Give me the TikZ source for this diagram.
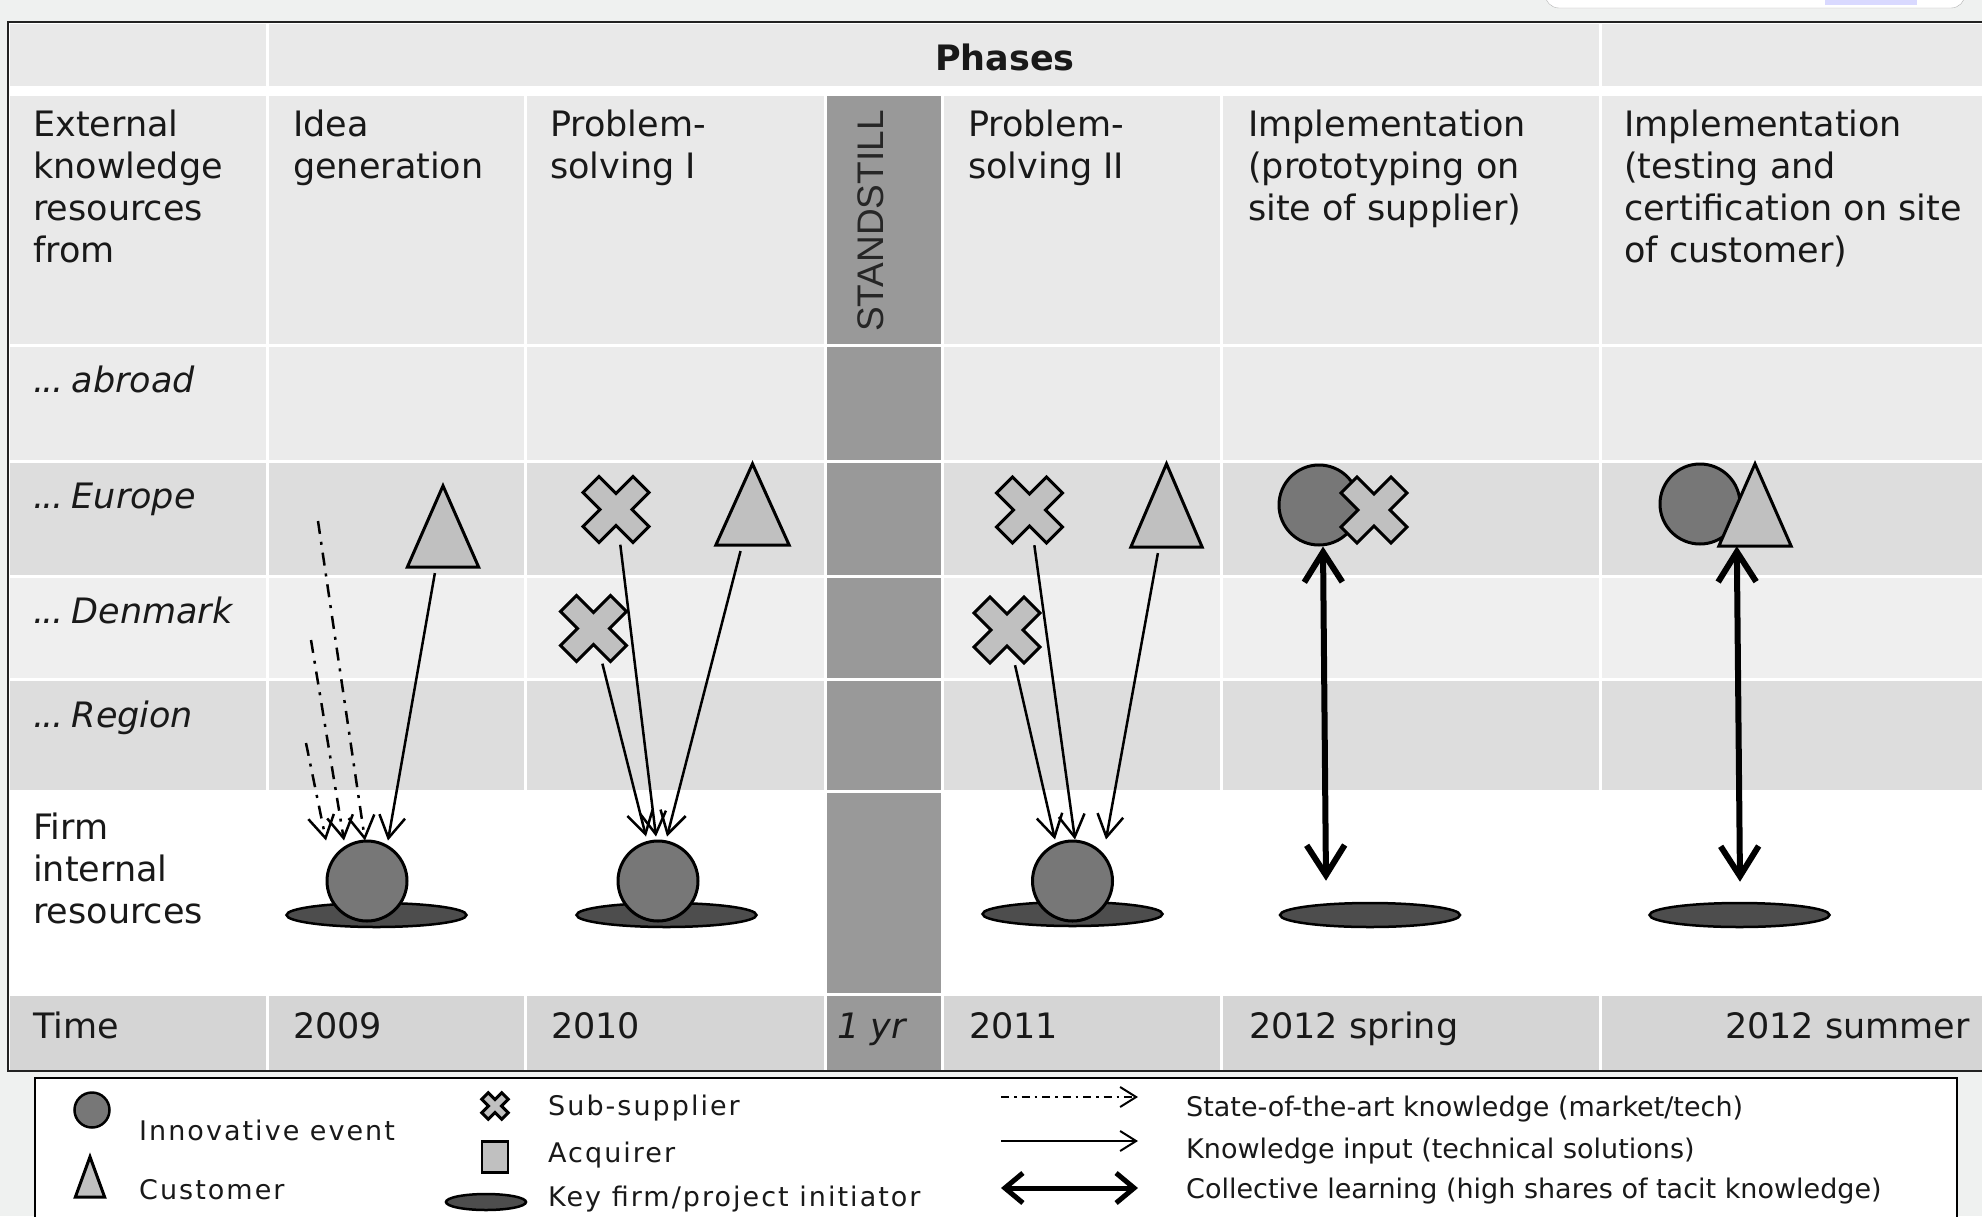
\documentclass[tikz,border=0pt]{standalone}
\usepackage{fontspec}
\setmainfont{DejaVu Sans}
\newfontfamily\stillfont{Liberation Sans}
\newfontfamily\keyfont[LetterSpace=7.5]{DejaVu Sans}
\usetikzlibrary{shapes.geometric,arrows.meta}
\definecolor{pagebg}{HTML}{EFF1F0}
\definecolor{rowA}{HTML}{E9E9E9}
\definecolor{rowB}{HTML}{EBEBEB}
\definecolor{rowdark}{HTML}{DDDDDD}
\definecolor{rowlight}{HTML}{EFEFEF}
\definecolor{timerow}{HTML}{D5D5D5}
\definecolor{stillgray}{HTML}{999999}
\definecolor{eventgray}{HTML}{777777}
\definecolor{firmgray}{HTML}{4D4D4D}
\definecolor{actorgray}{HTML}{C0C0C0}
\definecolor{rule}{HTML}{222222}
\tikzset{
    event/.style={circle,draw=black,line width=3pt,fill=eventgray,minimum size=80pt,inner sep=0},
    keyfirm/.style={ellipse,draw=black,line width=2.5pt,fill=firmgray,minimum width=180pt,minimum height=24pt,inner sep=0},
    actor/.style={draw=black,line width=3pt,fill=actorgray,line join=miter},
    slot/.style={rectangle,inner sep=0},
    txt/.style={inner sep=0,font=\fontsize{35}{42}\selectfont,align=left,text=black!90},
    place/.style={txt,font=\fontsize{35}{42}\selectfont\itshape,anchor=base west},
    keytxt/.style={inner sep=0,font=\keyfont\fontsize{27}{32}\selectfont,anchor=base west,text=black!90},
    lgtxt/.style={inner sep=0,font=\fontsize{27}{32}\selectfont,anchor=base west,text=black!90},
    kin/.style={-{Straight Barb[length=22pt,width=26pt]},line width=2.5pt},
    sota/.style={kin,dash pattern=on 13pt off 8pt on 3pt off 8pt},
    clearn/.style={{Straight Barb[length=30pt,width=38pt]}-{Straight Barb[length=30pt,width=38pt]},line width=6pt}
}
% sub-supplier cross: name, position, scale
\newcommand{\subsupplier}[3]{%
    \node[slot,minimum size=#3*70pt] (#1) at (#2) {};
    \filldraw[actor,shift={(#2)},scale=#3] (-33,-17) -- (-17,-33) -- (0,-16) -- (17,-33) -- (33,-17) -- (16,0)
        -- (33,17) -- (17,33) -- (0,16) -- (-17,33) -- (-33,17) -- (-16,0) -- cycle;
}
% customer triangle: name, position, width, height
\newcommand{\customer}[4]{%
    \node[slot,minimum width=#3pt,minimum height=#4pt] (#1) at (#2) {};
    \filldraw[actor] (#1.south west) -- (#1.north) -- (#1.south east) -- cycle;
}
\newcommand{\fromdots}{.\kern-1.5pt.\kern-1.5pt.\kern-3pt\ }

\begin{document}
\begin{tikzpicture}[x=1pt,y=-1pt]
    \useasboundingbox (0,0) rectangle (1982,1216);
    \clip (0,0) rectangle (1982,1216);
    \fill[pagebg] (0,0) rectangle (1982,1216);
    \fill[white,draw=gray!60,rounded corners=14pt] (1545,-40) rectangle (1965,8);
    \fill[blue!15] (1825,-40) rectangle (1917,5);

    \fill[white] (8,22) rectangle (1990,1071);
    \foreach \xa/\xb in {8/267,267/1600,1600/1990}
        \fill[rowA] (\xa+1.5,23.5) rectangle (\xb-1.5,86);
    \foreach \ya/\yb/\rowcol in {94/345/rowA,345/461/rowB,461/576/rowdark,576/679/rowlight,679/791/rowdark,791/994/white,994/1071/timerow}{
        \foreach \xa/\xb in {8/267,267/525,525/825,942/1221,1221/1600,1600/1990}
            \fill[\rowcol] (\xa+1.5,\ya+1.5) rectangle (\xb-1.5,\yb-1.5);
        \fill[stillgray] (826.5,\ya+1.5) rectangle (940.5,\yb-1.5);
    }
    \draw[rule,line width=2.5pt] (1990,22) -- (8,22) -- (8,1071) -- (1990,1071);

    \node[txt,font=\fontsize{35}{42}\selectfont\bfseries,anchor=base] (phases) at (1005,70) {Phases};
    \node[txt,anchor=north west] (hext) at (33,110) {External\\knowledge\\resources\\from};
    \node[txt,anchor=north west] (hidea) at (293,110) {Idea\\generation};
    \node[txt,anchor=north west] (hps1) at (550,110) {Problem-\\solving I};
    \node[rotate=90,inner sep=0,font=\stillfont\fontsize{37}{40}\selectfont,text=black!85] (still) at (871,221) {STANDSTILL};
    \node[txt,anchor=north west] (hps2) at (968,110) {Problem-\\solving II};
    \node[txt,anchor=north west] (himp1) at (1248,110) {Implementation\\(prototyping on\\site of supplier)};
    \node[txt,anchor=north west] (himp2) at (1624,110) {Implementation\\(testing and\\certification on site\\of customer)};

    \node[place] (rabroad) at (33,392) {\fromdots abroad};
    \node[place] (reurope) at (33,508) {\fromdots Europe};
    \node[place] (rdenmark) at (33,623) {\fromdots Denmark};
    \node[place] (rregion) at (33,727) {\fromdots Region};
    \node[txt,anchor=north west] (rfirm) at (33,813) {Firm\\internal\\resources};

    \node[txt,anchor=base west] (ttime) at (33,1038) {Time};
    \node[txt,anchor=base west] (t2009) at (293,1038) {2009};
    \node[txt,anchor=base west] (t2010) at (551,1038) {2010};
    \node[place] (tyear) at (837,1038) {1 yr};
    \node[txt,anchor=base west] (t2011) at (969,1038) {2011};
    \node[txt,anchor=base west] (tspring) at (1249,1038) {2012 spring};
    \node[txt,anchor=base east] (tsummer) at (1970,1038) {2012 summer};

    \customer{cu1}{443,526.5}{71}{81}
    \node[keyfirm] (kf1) at (376.5,915) {};
    \node[event] (ev1) at (367,881) {};
    \coordinate (sa1) at (318,521);
    \coordinate (sa2) at (311,640);
    \coordinate (sa3) at (306,743);
    \draw[sota] (sa1) -- ([shift={(-2,1)}]ev1.north);
    \draw[sota] (sa2) -- ([shift={(-23,1)}]ev1.north);
    \draw[sota] (sa3) -- ([shift={(-41,1)}]ev1.north);
    \draw[kin,shorten <=6pt] (cu1) -- ([shift={(21,1)}]ev1.north);

    \subsupplier{ss1}{616,509.5}{1}
    \subsupplier{ss2}{593.5,628.5}{1}
    \customer{cu2}{752.5,504.5}{73}{81}
    \node[keyfirm] (kf2) at (666.5,915) {};
    \node[event] (ev2) at (658,881) {};
    \draw[kin] (ss2) -- ([shift={(-12,-3)}]ev2.north);
    \draw[kin] (ss1) -- ([shift={(-2,-3)}]ev2.north);
    \draw[kin,shorten <=6pt] (cu2) -- ([shift={(9,-3)}]ev2.north);

    \subsupplier{ss3}{1029.5,510}{1}
    \subsupplier{ss4}{1007,630}{1}
    \customer{cu3}{1166.5,505.5}{71}{83}
    \node[keyfirm] (kf3) at (1072.5,914) {};
    \node[event] (ev3) at (1072.5,881) {};
    \draw[kin] (ss4) -- ([shift={(-17.5,0)}]ev3.north);
    \draw[kin] (ss3) -- ([shift={(2.5,0)}]ev3.north);
    \draw[kin,shorten <=6pt] (cu3) -- ([shift={(33.5,0)}]ev3.north);

    \node[event] (ev4) at (1319,505) {};
    \subsupplier{ss5}{1374,510}{1}
    \node[keyfirm] (kf4) at (1370,915) {};
    \draw[clearn] ([xshift=4pt]ev4.south) -- ([shift={(-44,-21)}]kf4.north);

    \node[event] (ev5) at (1700,504) {};
    \customer{cu4}{1755,505}{72}{82}
    \node[keyfirm] (kf5) at (1739.5,915) {};
    \draw[clearn] ([xshift=18pt]cu4.south west) -- ([shift={(0.5,-20)}]kf5.north);

    \draw[black,line width=2pt,fill=white] (35,1078) rectangle (1957,1240);
    \node[event,minimum size=35pt,line width=2.5pt] (lgev) at (92,1110) {};
    \node[keytxt] (lgevtxt) at (139,1140) {Innovative event};
    \customer{lgcu}{90,1177}{29}{40}
    \node[keytxt] (lgcutxt) at (139,1199) {Customer};
    \subsupplier{lgss}{495,1106}{0.4}
    \node[keytxt] (lgsstxt) at (548,1115) {Sub-supplier};
    \node[slot,actor,line width=2.5pt,minimum width=26pt,minimum height=31pt] (lgacq) at (495,1157) {};
    \node[keytxt] (lgacqtxt) at (548,1162) {Acquirer};
    \node[keyfirm,minimum width=80pt,minimum height=16pt] (lgkf) at (486,1202) {};
    \node[keytxt] (lgkftxt) at (548,1206) {Key firm/project initiator};

    \coordinate (lsa1) at (1001,1097);
    \coordinate (lsa2) at (1138,1097);
    \coordinate (lkn1) at (1001,1141);
    \coordinate (lkn2) at (1138,1141);
    \coordinate (lcl1) at (1001,1188);
    \coordinate (lcl2) at (1138,1188);
    \draw[sota,line width=2pt,dash pattern=on 8pt off 5pt on 2.5pt off 5pt,-{Straight Barb[length=16pt,width=20pt]}] (lsa1) -- (lsa2);
    \draw[kin,line width=2pt,-{Straight Barb[length=16pt,width=20pt]}] (lkn1) -- (lkn2);
    \draw[clearn,line width=5pt,{Straight Barb[length=18pt,width=30pt]}-{Straight Barb[length=18pt,width=30pt]}] (lcl1) -- (lcl2);
    \node[lgtxt] (lgsotxt) at (1186,1116) {State-of-the-art knowledge (market/tech)};
    \node[lgtxt] (lgkntxt) at (1186,1158) {Knowledge input (technical solutions)};
    \node[lgtxt] (lgcltxt) at (1186,1198) {Collective learning (high shares of tacit knowledge)};
\end{tikzpicture}
\end{document}
